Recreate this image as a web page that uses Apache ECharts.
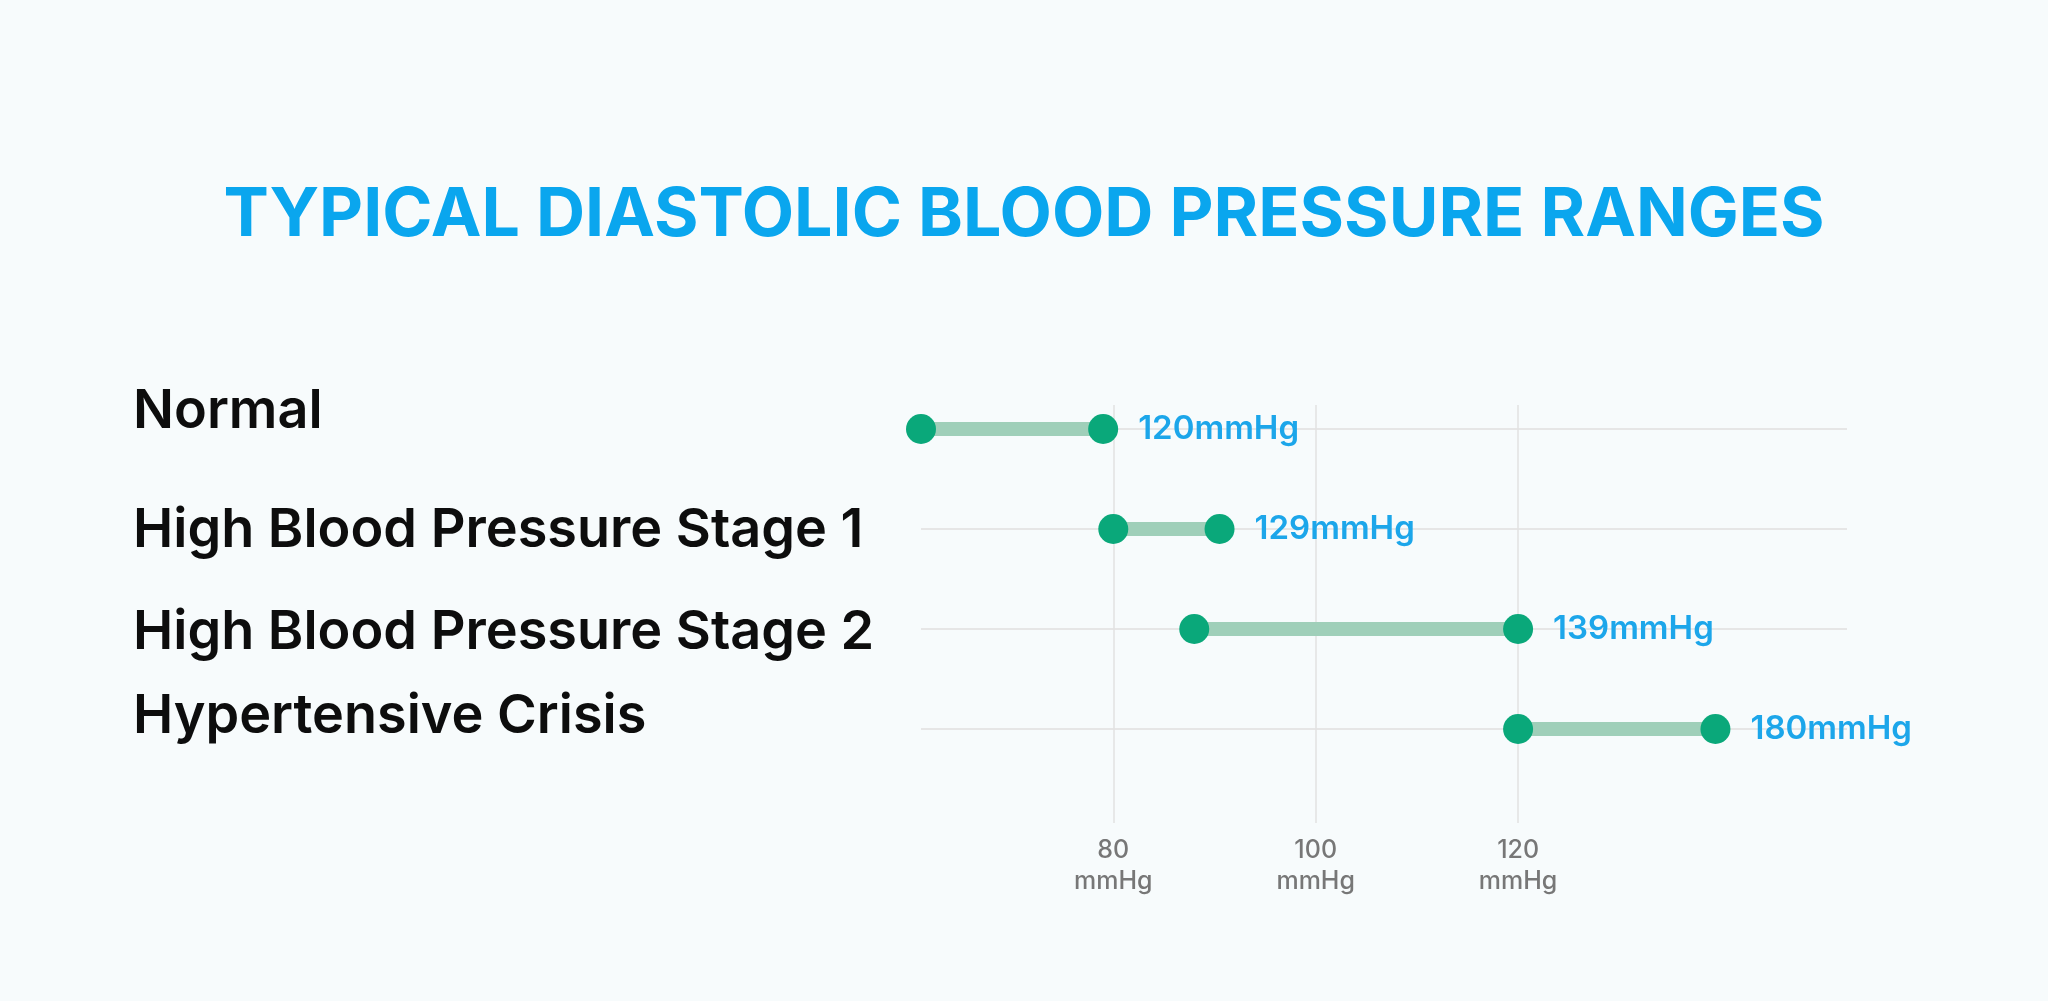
<!DOCTYPE html>
<html>
<head>
<meta charset="utf-8">
<title>Typical Diastolic Blood Pressure Ranges</title>
<script src="https://cdn.jsdelivr.net/npm/echarts@6/dist/echarts.min.js"></script>
<style>
  html, body { margin: 0; padding: 0; background: #f7fbfc; }
  #chart { width: 2048px; height: 1001px; }
</style>
</head>
<body>
<div id="chart"></div>
<script>
// ranges (mmHg)
const categories = ['Normal', 'High Blood Pressure Stage 1', 'High Blood Pressure Stage 2', 'Hypertensive Crisis'];
const rangeStart = [61, 80, 88, 120];
const rangeEnd = [79, 90.5, 120, 139.5];
const endLabels = ['120mmHg', '129mmHg', '139mmHg', '180mmHg'];
const xTicks = [80, 100, 120];

const FONT = 'Inter, "Noto Sans", sans-serif';
const xMin = 61, xMax = 152.5;

// the row names don't sit exactly on their lines in the original
const nameShift = [-17, 2, 4, -12];
const nameRich = {};
nameShift.forEach(function (s, i) {
    nameRich['r' + i] = {
        color: '#0d0d0d',
        fontFamily: FONT,
        fontWeight: 600,
        fontSize: 54,
        padding: s < 0 ? [0, 0, -2 * s, 0] : [2 * s, 0, 0, 0]
    };
});

const rowSeries = categories.map(function (cat, i) {
    return {
        type: 'line',
        xAxisIndex: 0,
        yAxisIndex: 0,
        symbol: 'circle',
        symbolSize: 30,
        itemStyle: { color: '#0aa87a' },
        lineStyle: { color: '#9fcfb9', width: 14 },
        silent: true,
        z: 3,
        data: [
            { value: [rangeStart[i], cat] },
            {
                value: [rangeEnd[i], cat],
                label: {
                    show: true,
                    position: 'right',
                    distance: 20,
                    formatter: endLabels[i],
                    color: '#1ca6ea',
                    fontFamily: FONT,
                    fontWeight: 600,
                    fontSize: 33
                }
            }
        ]
    };
});

const chart = echarts.init(document.getElementById('chart'));
chart.setOption({
    backgroundColor: '#f7fbfc',
    animation: false,
    title: {
        text: 'TYPICAL DIASTOLIC BLOOD PRESSURE RANGES',
        left: 'center',
        top: 177,
        textStyle: {
            color: '#0aa6ee',
            fontFamily: FONT,
            fontWeight: 700,
            fontSize: 68
        }
    },
    grid: [
        { left: 921, right: 201, top: 429, bottom: 272 },
        { left: 921, right: 201, top: 405, bottom: 178 }
    ],
    xAxis: [
        {
            gridIndex: 0, type: 'value', min: xMin, max: xMax,
            axisLine: { show: false }, axisTick: { show: false },
            axisLabel: { show: false }, splitLine: { show: false }
        },
        {
            gridIndex: 1, type: 'value', min: xMin, max: xMax,
            axisLine: { show: false },
            axisTick: { show: false, customValues: xTicks },
            axisLabel: {
                customValues: xTicks,
                formatter: function (v) { return v + '\nmmHg'; },
                color: '#777777',
                fontFamily: FONT,
                fontWeight: 500,
                fontSize: 25,
                lineHeight: 31,
                margin: 12
            },
            splitLine: { show: true, lineStyle: { color: '#e2e2e2', width: 1.5 } }
        }
    ],
    yAxis: [
        {
            gridIndex: 0, type: 'category', data: categories,
            inverse: true, boundaryGap: false,
            axisLine: { show: false }, axisTick: { show: false },
            axisLabel: {
                align: 'left',
                margin: 788,
                formatter: function (v, i) { return '{r' + i + '|' + v + '}'; },
                rich: nameRich
            },
            splitLine: { show: true, lineStyle: { color: '#e6e6e6', width: 2 } }
        },
        {
            gridIndex: 1, type: 'value', min: 0, max: 1,
            show: false, splitLine: { show: false }
        }
    ],
    series: rowSeries.concat([
        { type: 'line', xAxisIndex: 1, yAxisIndex: 1, data: [], silent: true }
    ])
});
</script>
</body>
</html>
